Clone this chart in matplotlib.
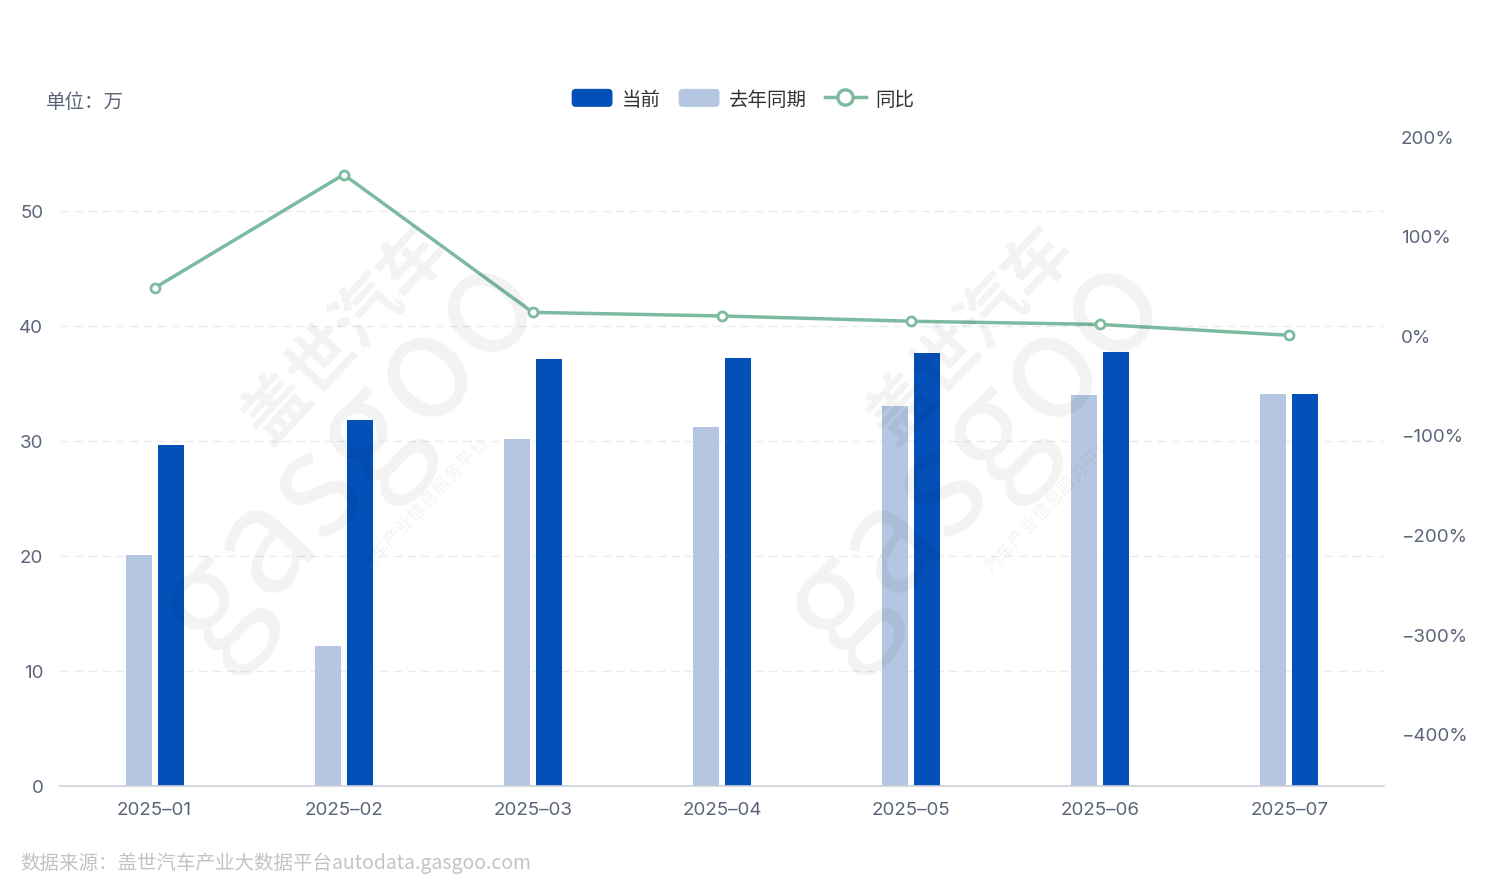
import matplotlib.pyplot as plt
from matplotlib.patches import Patch, FancyBboxPatch
from matplotlib.lines import Line2D
from matplotlib.legend_handler import HandlerPatch
import numpy as np

plt.rcParams['font.family'] = ['Noto Sans CJK SC', 'DejaVu Sans']

months = ['2025-01', '2025-02', '2025-03', '2025-04', '2025-05', '2025-06', '2025-07']
current = [29.65, 31.8, 37.15, 37.25, 37.65, 37.7, 34.1]
last_year = [20.1, 12.17, 30.2, 31.2, 33.0, 34.0, 34.1]
yoy = [47.5, 161.3, 23.0, 19.4, 14.1, 10.9, 0.0]

dark_blue = '#0350b8'
light_blue = '#b4c6e1'
green = '#7dbba0'
text_gray = '#5b6479'
num_font = ['Inter', 'Noto Sans CJK SC']


class RoundBox(HandlerPatch):
    def create_artists(self, legend, orig_handle, xdescent, ydescent, width, height, fontsize, trans):
        p = FancyBboxPatch((-xdescent, -ydescent), width, height,
                           boxstyle='round,pad=0,rounding_size=3',
                           facecolor=orig_handle.get_facecolor(), edgecolor='none', transform=trans)
        return [p]


fig = plt.figure(figsize=(14.87, 8.95), dpi=100)
ax = fig.add_axes([60 / 1487, 1 - 787 / 895, 1324 / 1487, 650 / 895])
ax2 = ax.twinx()

x = np.arange(len(months))
w = 0.1376
off = 0.0847
ax.bar(x - off, last_year, w, color=light_blue, zorder=2)
ax.bar(x + off, current, w, color=dark_blue, zorder=2)

ax.set_xlim(-0.5, len(months) - 0.5)
ax.set_ylim(0, 56.52)
ax.set_yticks([0, 10, 20, 30, 40, 50])
ax.set_xticks(x)
ax.set_xticklabels([m.replace('-', '–') for m in months], family=num_font)
ax.set_yticklabels([str(t) for t in [0, 10, 20, 30, 40, 50]], family=num_font)
ax.grid(axis='y', color='#eaebee', linestyle=(0, (6, 4)), linewidth=1, zorder=0)
ax.set_axisbelow(True)
for s in ['top', 'right', 'left']:
    ax.spines[s].set_visible(False)
ax.spines['bottom'].set_color('#ccd0d9')
ax.spines['bottom'].set_linewidth(1.2)
ax.tick_params(axis='both', length=0, labelsize=13.5, colors=text_gray)
ax.tick_params(axis='x', pad=11)
ax.tick_params(axis='y', pad=12)

ax2.plot(x, yoy, color=green, linewidth=2.5, marker='o', markersize=6.5,
         markerfacecolor='white', markeredgecolor=green, markeredgewidth=2, zorder=3)
ax2.set_ylim(-452.3, 200)
pct_ticks = [200, 100, 0, -100, -200, -300, -400]
ax2.set_yticks(pct_ticks)
ax2.set_yticklabels([f'{t}%'.replace('-', '−') for t in pct_ticks], family=num_font)
for s in ['top', 'right', 'left', 'bottom']:
    ax2.spines[s].set_visible(False)
ax2.tick_params(axis='y', length=0, labelsize=13.5, colors=text_gray, pad=12)

# watermarks
for cx in [350, 975]:
    fx = cx / 1487
    fig.text(fx - 0.003, 1 - 335 / 895, '盖世汽车', fontsize=48, fontweight='bold',
             rotation=47, color='black', alpha=0.05, ha='center', va='center')
    fig.text(fx + 0.0, 1 - 455 / 895, 'gasgoo', fontsize=105,
             rotation=47, color='black', alpha=0.05, ha='center', va='center')
    fig.text(fx + 0.05, 1 - 505 / 895, '汽车产业信息服务平台', fontsize=13,
             rotation=47, color='black', alpha=0.05, ha='center', va='center')

handles = [
    Patch(facecolor=dark_blue, edgecolor='none', label='当前'),
    Patch(facecolor=light_blue, edgecolor='none', label='去年同期'),
    Line2D([0], [0], color=green, linewidth=2.5, marker='o', markersize=11,
           markerfacecolor='white', markeredgewidth=2.4, label='同比'),
]
leg = fig.legend(handles=handles, loc='center', bbox_to_anchor=(743 / 1487, 1 - 100 / 895),
                 ncol=3, frameon=False, fontsize=14, handlelength=2.1, handleheight=1.05,
                 columnspacing=0.9, handletextpad=0.5,
                 handler_map={Patch: RoundBox()})
for t in leg.get_texts():
    t.set_color('#333333')

fig.text(46 / 1487, 1 - 102 / 895, '单位：万', fontsize=14, color=text_gray, va='center')
fig.text(20 / 1487, 1 - 863 / 895, '数据来源：盖世汽车产业大数据平台autodata.gasgoo.com',
         fontsize=14, color='#c3c3c3', va='center')

fig.savefig('out.png', dpi=100)
